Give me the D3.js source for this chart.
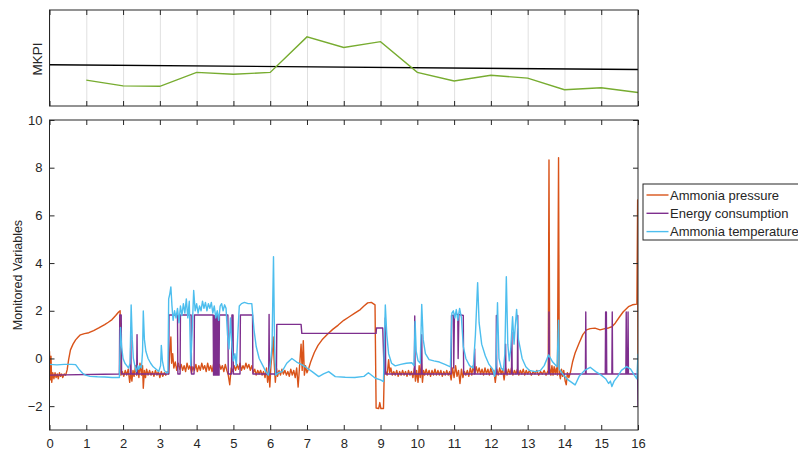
<!DOCTYPE html>
<html>
<head>
<meta charset="utf-8">
<script src="https://cdn.jsdelivr.net/npm/d3@7"></script>
<style>
  body { margin: 0; background: #fff; }
  text { font-family: "Liberation Sans", Arial, sans-serif; fill: #262626; }
</style>
</head>
<body>
<svg id="chart" width="798" height="451"></svg>
<script>
// ---- data ----
var xTicks = [0, 1, 2, 3, 4, 5, 6, 7, 8, 9, 10, 11, 12, 13, 14, 15, 16];
var yTicks = [-2, 0, 2, 4, 6, 8, 10];

// top panel (MKPI), arbitrary 0..1 units
var mkpiX = [1, 2, 3, 4, 5, 6, 7, 8, 9, 10, 11, 12, 13, 14, 15, 16];
var mkpi = [0.27, 0.21, 0.205, 0.35, 0.33, 0.35, 0.72, 0.61, 0.67, 0.35, 0.26, 0.32, 0.29, 0.17, 0.19, 0.14];
var trendX = [0, 16];
var trend = [0.43, 0.38];

var seriesNames = ["Ammonia pressure", "Energy consumption", "Ammonia temperature"];
var seriesColors = ["#D95319", "#7E2F8E", "#4DBEEE"];

var pressure = [
  [0.00,0.3],[0.02,-0.9],[0.04,0.1],[0.06,-1.0],[0.09,-0.6],[0.12,-0.85],[0.15,-0.6],[0.18,-0.8],
  [0.21,-0.65],[0.24,-0.85],[0.27,-0.6],[0.30,-0.75],[0.33,-0.65],[0.36,-0.8],[0.40,-0.65],[0.44,-0.7],
  [0.48,-0.48],[0.52,-0.05],[0.57,0.36],[0.64,0.6],[0.71,0.78],[0.78,0.9],[0.84,0.99],[0.95,1.04],
  [1.07,1.08],[1.20,1.17],[1.34,1.28],[1.50,1.42],[1.60,1.52],[1.70,1.63],[1.80,1.8],[1.88,1.95],
  [1.92,2.0],[1.94,-0.7],[1.98,-0.55],[2.02,-0.75],[2.06,-0.5],[2.10,-0.7],[2.14,-0.45],[2.18,-1.0],
  [2.21,-0.6],[2.24,-0.95],[2.27,-0.5],[2.30,-0.75],[2.34,-0.3],[2.37,-0.7],[2.40,-0.4],[2.43,-0.8],
  [2.46,-0.2],[2.50,-0.7],[2.53,-0.3],[2.55,-1.25],[2.58,-0.5],[2.61,-0.8],[2.64,-0.45],[2.68,-0.7],
  [2.72,-0.5],[2.76,-0.7],[2.80,-0.55],[2.84,-0.75],[2.88,-0.5],[2.92,-0.7],[2.96,-0.55],[3.00,-0.8],
  [3.04,-0.55],[3.08,-0.75],[3.12,-0.6],[3.16,-0.7],[3.20,-0.55],[3.24,-0.65],[3.27,0.3],[3.30,0.9],
  [3.32,-0.2],[3.35,0.2],[3.38,-0.4],[3.42,-0.15],[3.46,-0.5],[3.50,-0.2],[3.54,-0.45],[3.58,-0.25],
  [3.62,-0.5],[3.66,-0.3],[3.70,-0.55],[3.74,-0.2],[3.78,-0.45],[3.82,-0.3],[3.86,-0.6],[3.90,-0.35],
  [3.94,-0.5],[3.98,-0.25],[4.02,-0.55],[4.06,-0.3],[4.10,-0.5],[4.14,-0.2],[4.18,-0.45],[4.22,-0.3],
  [4.26,-0.55],[4.30,-0.2],[4.34,-0.5],[4.38,-0.3],[4.42,-0.55],[4.46,-0.25],[4.50,-0.6],[4.54,-0.3],
  [4.58,-0.5],[4.62,-0.25],[4.66,-0.45],[4.70,-0.3],[4.74,-0.55],[4.78,-0.25],[4.82,-0.5],[4.86,-0.7],
  [4.90,-1.1],[4.94,-0.4],[4.98,-0.55],[5.02,-0.3],[5.06,-0.5],[5.10,-0.25],[5.14,-0.45],[5.18,-0.2],
  [5.22,-0.5],[5.26,-0.3],[5.30,-0.45],[5.34,-0.2],[5.38,-0.4],[5.42,-0.25],[5.46,-0.5],[5.50,-0.3],
  [5.54,-0.6],[5.58,-0.45],[5.62,-0.7],[5.66,-0.5],[5.70,-0.65],[5.74,-0.5],[5.78,-0.7],[5.82,-0.55],
  [5.86,-0.8],[5.90,-0.4],[5.93,-1.0],[5.96,-0.5],[5.99,-1.2],[6.02,-0.3],[6.05,0.2],[6.08,0.9],
  [6.11,-0.2],[6.14,-1.0],[6.17,-0.4],[6.20,-0.75],[6.24,-0.5],[6.28,-0.7],[6.32,-0.45],[6.36,-0.65],
  [6.40,-0.5],[6.44,-0.7],[6.48,-0.55],[6.52,-0.75],[6.56,-0.45],[6.60,-0.7],[6.64,-0.5],[6.68,-0.8],
  [6.72,-0.4],[6.76,-1.2],[6.80,-0.3],[6.84,0.6],[6.87,-0.5],[6.90,0.75],[6.93,-0.7],[6.96,-0.3],
  [7.00,-0.6],[7.05,-0.4],[7.10,-0.15],[7.20,0.25],[7.30,0.55],[7.41,0.78],[7.55,1.0],[7.70,1.22],
  [7.85,1.4],[8.00,1.6],[8.15,1.75],[8.30,1.9],[8.45,2.05],[8.55,2.2],[8.65,2.33],[8.75,2.35],
  [8.85,2.25],[8.88,-2.08],[8.95,-2.1],[8.98,-1.85],[9.01,-2.1],[9.08,-2.1],[9.10,-0.65],
  [9.14,-0.55],[9.18,-0.7],[9.22,-0.05],[9.25,-0.6],[9.28,-0.4],[9.32,-0.7],[9.36,-0.55],[9.40,-0.7],
  [9.44,-0.5],[9.48,-0.75],[9.52,-0.55],[9.56,-0.7],[9.60,-0.5],[9.64,-0.7],[9.68,-0.55],[9.72,-0.75],
  [9.76,-0.5],[9.80,-0.7],[9.84,-0.55],[9.88,-0.8],[9.92,-0.4],[9.95,-0.95],[9.98,-0.5],[10.02,-1.0],
  [10.05,-0.3],[10.08,-0.8],[10.11,-0.2],[10.14,-1.0],[10.17,-0.5],[10.20,-0.7],[10.24,-0.45],
  [10.28,-0.7],[10.32,-0.5],[10.36,-0.75],[10.40,-0.5],[10.44,-0.7],[10.48,-0.45],[10.52,-0.7],
  [10.56,-0.5],[10.60,-0.7],[10.64,-0.5],[10.68,-0.75],[10.72,-0.55],[10.76,-0.7],[10.80,-0.5],
  [10.84,-0.7],[10.88,-0.55],[10.92,-0.9],[10.96,-0.4],[11.00,-0.8],[11.04,-0.3],[11.08,-0.75],
  [11.12,-0.5],[11.16,-1.05],[11.20,-0.45],[11.24,-0.8],[11.28,-0.55],[11.32,-0.7],[11.36,-0.5],
  [11.40,-0.75],[11.44,-0.4],[11.48,-0.7],[11.52,-0.3],[11.56,-0.65],[11.60,-0.35],[11.64,-0.6],
  [11.68,-0.4],[11.72,-0.65],[11.76,-0.45],[11.80,-0.7],[11.84,-0.4],[11.88,-0.65],[11.92,-0.45],
  [11.96,-0.7],[12.00,-0.4],[12.04,-0.65],[12.08,-0.5],[12.12,-1.0],[12.16,-0.45],[12.20,-0.7],
  [12.24,-0.4],[12.28,-0.65],[12.32,-0.45],[12.36,-0.9],[12.40,-0.4],[12.44,-0.7],[12.48,-0.45],
  [12.52,-0.65],[12.56,-0.4],[12.60,-0.7],[12.64,-0.5],[12.68,-0.65],[12.72,-0.45],[12.76,-0.7],
  [12.80,-0.5],[12.84,-0.65],[12.88,-0.45],[12.92,-0.7],[12.96,-0.5],[13.00,-0.65],[13.05,-0.5],
  [13.10,-0.7],[13.15,-0.55],[13.20,-0.65],[13.25,-0.5],[13.30,-0.7],[13.35,-0.55],[13.40,-0.65],
  [13.45,-0.5],[13.50,-0.7],[13.56,-0.5],[13.58,8.32],[13.60,-0.4],[13.63,-0.7],[13.66,-0.3],
  [13.69,-0.7],[13.72,-0.35],[13.75,-0.65],[13.78,-0.4],[13.81,-0.7],[13.84,8.42],[13.86,-0.6],
  [13.89,-0.85],[13.92,-0.45],[13.95,-0.75],[13.98,-0.5],[14.02,-0.95],[14.05,-1.1],[14.08,-0.6],
  [14.12,-0.8],[14.16,-0.6],[14.22,-0.15],[14.29,0.23],[14.40,0.65],[14.50,1.0],[14.60,1.2],
  [14.70,1.25],[14.83,1.27],[14.97,1.2],[15.10,1.25],[15.20,1.28],[15.29,1.33],[15.38,1.48],
  [15.50,1.75],[15.60,1.96],[15.74,2.17],[15.85,2.25],[15.97,2.28],[15.99,6.65],[16.0,-0.5]
];

var energy = [
  [0.00,-0.7],[1.90,-0.65],[1.91,1.82],[1.95,1.82],[1.96,-0.65],[2.20,-0.65],[2.21,0.95],[2.22,-0.65],
  [2.37,-0.65],[2.38,1.0],[2.39,-0.65],[3.24,-0.65],[3.25,1.82],[3.48,1.82],[3.49,-0.65],[3.55,-0.65],
  [3.56,1.82],[3.85,1.82],[3.86,-0.65],[3.93,-0.65],[3.94,1.82],[4.45,1.82],[4.46,-0.7],[4.475,1.8],
  [4.49,-0.7],[4.505,1.8],[4.52,-0.7],[4.535,1.8],[4.55,-0.7],[4.565,1.8],[4.58,-0.7],[4.595,1.8],
  [4.61,-0.7],[4.62,1.82],[4.85,1.82],[4.86,-0.65],[4.95,-0.65],[4.96,1.82],[4.99,1.82],[5.00,-0.65],
  [5.18,-0.65],[5.19,1.82],[5.52,1.82],[5.53,-0.65],[5.96,-0.65],[5.97,1.85],[5.98,-0.65],[6.17,-0.65],
  [6.18,1.43],[6.84,1.43],[6.86,1.05],[8.88,1.05],[8.89,1.28],[9.06,1.28],[9.10,-0.65],[9.12,-0.65],
  [9.13,1.7],[9.14,-0.65],[9.92,-0.65],[9.93,1.78],[9.94,-0.65],[10.11,-0.65],[10.12,1.0],[10.13,-0.65],
  [10.92,-0.65],[10.93,1.8],[10.98,1.8],[10.99,-0.4],[11.01,1.85],[11.10,1.85],[11.11,0.0],[11.13,1.85],
  [11.25,1.8],[11.26,-0.65],[11.55,-0.65],[11.56,0.4],[11.57,-0.65],[12.14,-0.65],[12.15,1.8],
  [12.16,-0.65],[12.39,-0.65],[12.40,0.6],[12.41,-0.65],[12.56,-0.65],[12.57,1.1],[12.58,-0.65],
  [12.72,-0.65],[12.73,1.8],[12.74,-0.65],[13.57,-0.65],[13.58,1.95],[13.59,-0.65],[14.57,-0.65],
  [14.58,1.95],[14.59,-0.65],[15.11,-0.65],[15.12,1.95],[15.13,-0.65],[15.14,1.95],[15.15,-0.65],
  [15.29,-0.65],[15.30,1.95],[15.31,-0.65],[15.67,-0.65],[15.68,1.95],[15.69,-0.65],[15.72,-0.65],
  [15.73,1.95],[15.74,-0.65],[15.99,-0.65],[16.0,-2.0]
];

var temperature = [
  [0.00,-0.25],[0.20,-0.27],[0.40,-0.25],[0.60,-0.25],[0.71,-0.26],[0.80,-0.45],[0.90,-0.62],[0.98,-0.7],
  [1.10,-0.75],[1.30,-0.77],[1.50,-0.78],[1.70,-0.8],[1.90,-0.8],[1.93,1.3],[1.96,0.5],[2.00,0.0],
  [2.05,-0.2],[2.10,-0.3],[2.15,-0.4],[2.19,-0.2],[2.22,2.24],[2.25,0.8],[2.28,0.0],[2.32,-0.3],
  [2.36,-0.55],[2.40,-0.3],[2.43,-0.45],[2.46,-0.3],[2.50,-0.4],[2.53,0.3],[2.55,1.99],[2.58,0.8],
  [2.62,0.3],[2.68,0.0],[2.75,-0.2],[2.82,-0.35],[2.90,-0.45],[2.97,-0.55],[3.02,-0.3],[3.04,0.55],
  [3.07,-0.1],[3.12,-0.5],[3.18,-0.6],[3.22,-0.6],[3.24,2.5],[3.27,2.7],[3.30,3.0],[3.33,2.2],
  [3.36,1.6],[3.40,2.0],[3.44,1.7],[3.48,2.1],[3.52,1.5],[3.56,2.2],[3.60,1.8],[3.64,2.3],[3.68,1.9],
  [3.72,2.5],[3.76,1.7],[3.80,2.4],[3.84,-0.3],[3.88,1.2],[3.92,2.85],[3.96,2.0],[4.00,2.3],[4.04,1.9],
  [4.08,2.2],[4.12,2.0],[4.16,2.4],[4.20,2.1],[4.24,2.35],[4.28,2.0],[4.32,2.3],[4.36,2.1],[4.40,2.35],
  [4.44,1.9],[4.48,2.2],[4.52,1.7],[4.56,2.0],[4.60,1.6],[4.64,2.2],[4.68,2.3],[4.72,2.0],[4.76,2.25],
  [4.80,2.1],[4.84,1.0],[4.88,0.4],[4.92,1.7],[4.96,0.5],[5.00,-0.1],[5.04,0.2],[5.08,-0.3],[5.12,1.0],
  [5.16,2.2],[5.22,2.3],[5.30,2.35],[5.40,2.3],[5.50,2.3],[5.56,1.2],[5.62,0.5],[5.70,0.0],[5.80,-0.3],
  [5.88,-0.55],[5.95,-0.7],[6.00,-0.3],[6.05,0.5],[6.09,4.27],[6.12,0.5],[6.15,-0.7],[6.22,-0.6],
  [6.32,-0.55],[6.45,-0.2],[6.59,0.0],[6.72,-0.15],[6.87,-0.27],[7.00,-0.4],[7.14,-0.55],[7.32,-0.76],
  [7.45,-0.65],[7.59,-0.55],[7.77,-0.76],[8.04,-0.79],[8.30,-0.8],[8.55,-0.75],[8.67,-0.6],[8.86,-0.83],
  [9.00,-0.9],[9.08,-0.97],[9.13,2.24],[9.17,1.0],[9.22,0.2],[9.30,-0.2],[9.40,-0.31],[9.55,-0.25],
  [9.70,-0.2],[9.85,-0.18],[9.91,-0.3],[9.94,1.55],[9.97,0.3],[10.02,-0.1],[10.08,-0.2],[10.12,2.27],
  [10.16,0.8],[10.22,0.2],[10.32,-0.05],[10.45,-0.1],[10.60,-0.15],[10.75,-0.25],[10.90,-0.35],
  [10.94,1.9],[10.98,2.0],[11.02,1.7],[11.06,2.05],[11.10,1.6],[11.15,2.1],[11.20,1.7],[11.25,0.5],
  [11.32,0.0],[11.42,-0.3],[11.52,-0.4],[11.58,1.0],[11.64,3.18],[11.68,1.5],[11.75,0.6],[11.85,0.1],
  [11.95,-0.25],[12.05,-0.45],[12.10,-0.75],[12.14,-0.3],[12.18,2.34],[12.22,0.0],[12.28,-0.4],
  [12.34,-0.5],[12.38,0.2],[12.42,3.43],[12.46,0.6],[12.50,-0.1],[12.54,0.4],[12.59,1.75],[12.63,0.6],
  [12.66,1.3],[12.70,2.06],[12.75,0.8],[12.85,0.0],[12.95,-0.35],[13.05,-0.5],[13.20,-0.55],
  [13.35,-0.5],[13.45,-0.3],[13.57,0.15],[13.68,-0.15],[13.80,-0.35],[13.84,1.6],[13.86,-0.45],
  [13.97,-0.69],[14.10,-0.9],[14.29,-1.11],[14.40,-0.75],[14.55,-0.5],[14.70,-0.37],[14.85,-0.55],
  [15.00,-0.7],[15.12,-0.85],[15.20,-1.05],[15.25,-0.95],[15.29,-1.18],[15.35,-0.95],[15.45,-0.75],
  [15.55,-0.5],[15.69,-0.34],[15.80,-0.45],[15.90,-0.7],[15.97,-0.85],[16.0,0.2]
];

// ---- layout ----
var svg = d3.select('#chart')
var left = 49.5, right = 638
var topPanel = {y0: 10, y1: 106}
var mainPanel = {y0: 120, y1: 430}
var axisColor = '#262626'
var tickLen = 5

var x = d3.scaleLinear().domain([0, 16]).range([left, right])
var yTop = d3.scaleLinear().domain([0, 1]).range([topPanel.y1, topPanel.y0])
var y = d3.scaleLinear().domain([-3, 10]).range([mainPanel.y1, mainPanel.y0])

svg.append('rect').attr('width', 798).attr('height', 451).attr('fill', '#fff')

// clip for each panel
var defs = svg.append('defs')
defs.append('clipPath').attr('id', 'clipTop').append('rect')
    .attr('x', left).attr('y', topPanel.y0).attr('width', right - left).attr('height', topPanel.y1 - topPanel.y0)
defs.append('clipPath').attr('id', 'clipMain').append('rect')
    .attr('x', left).attr('y', mainPanel.y0).attr('width', right - left).attr('height', mainPanel.y1 - mainPanel.y0)

// ---- top panel ----
// vertical grid
svg.append('g')
    .attr('transform', 'translate(0,' + topPanel.y1 + ')')
    .call(d3.axisBottom(x).tickValues(xTicks).tickSize(-(topPanel.y1 - topPanel.y0)).tickFormat(''))
    .call(g => g.select('.domain').remove())
    .call(g => g.selectAll('line').attr('stroke', '#e0e0e0').attr('stroke-width', 1))

var topLine = d3.line().x(d => x(d[0])).y(d => yTop(d[1]))
svg.append('path')
    .datum(d3.zip(trendX, trend))
    .attr('clip-path', 'url(#clipTop)')
    .attr('fill', 'none').attr('stroke', '#000').attr('stroke-width', 1.4)
    .attr('d', topLine)
svg.append('path')
    .datum(d3.zip(mkpiX, mkpi))
    .attr('clip-path', 'url(#clipTop)')
    .attr('fill', 'none').attr('stroke', '#77AC30').attr('stroke-width', 1.4)
    .attr('d', topLine)

// inward ticks top and bottom of the top panel
svg.append('g')
    .attr('transform', 'translate(0,' + topPanel.y1 + ')')
    .call(d3.axisBottom(x).tickValues(xTicks).tickSize(-tickLen).tickFormat(''))
    .call(g => g.select('.domain').remove())
    .call(g => g.selectAll('line').attr('stroke', axisColor))
svg.append('g')
    .attr('transform', 'translate(0,' + topPanel.y0 + ')')
    .call(d3.axisTop(x).tickValues(xTicks).tickSize(-tickLen).tickFormat(''))
    .call(g => g.select('.domain').remove())
    .call(g => g.selectAll('line').attr('stroke', axisColor))

svg.append('rect')
    .attr('x', left).attr('y', topPanel.y0)
    .attr('width', right - left).attr('height', topPanel.y1 - topPanel.y0)
    .attr('fill', 'none').attr('stroke', axisColor).attr('stroke-width', 1)

svg.append('text')
    .attr('transform', 'translate(42,' + ((topPanel.y0 + topPanel.y1) / 2 + 1) + ') rotate(-90)')
    .attr('text-anchor', 'middle')
    .style('font-size', '13.5px')
    .text('MKPI')

// ---- main panel ----
var line = d3.line().x(d => x(d[0])).y(d => y(d[1]))
var allSeries = [pressure, energy, temperature]

svg.append('g')
    .attr('clip-path', 'url(#clipMain)')
    .selectAll('path')
    .data(allSeries)
    .join('path')
    .attr('fill', 'none')
    .attr('stroke', (d, i) => seriesColors[i])
    .attr('stroke-width', 1.4)
    .attr('stroke-linejoin', 'round')
    .attr('d', line)

// bottom axis with labels
svg.append('g')
    .attr('transform', 'translate(0,' + mainPanel.y1 + ')')
    .call(d3.axisBottom(x).tickValues(xTicks).tickSize(-tickLen).tickPadding(9).tickFormat(d3.format('d')))
    .call(g => g.select('.domain').remove())
    .call(g => g.selectAll('line').attr('stroke', axisColor))
    .call(g => g.selectAll('text').style('font-size', '13px').attr('fill', axisColor))
svg.append('g')
    .attr('transform', 'translate(0,' + mainPanel.y0 + ')')
    .call(d3.axisTop(x).tickValues(xTicks).tickSize(-tickLen).tickFormat(''))
    .call(g => g.select('.domain').remove())
    .call(g => g.selectAll('line').attr('stroke', axisColor))

// left axis with labels, right ticks only
svg.append('g')
    .attr('transform', 'translate(' + left + ',0)')
    .call(d3.axisLeft(y).tickValues(yTicks).tickSize(-tickLen).tickPadding(7).tickFormat(d3.format('d')))
    .call(g => g.select('.domain').remove())
    .call(g => g.selectAll('line').attr('stroke', axisColor))
    .call(g => g.selectAll('text').style('font-size', '13px').attr('fill', axisColor))
svg.append('g')
    .attr('transform', 'translate(' + right + ',0)')
    .call(d3.axisRight(y).tickValues(yTicks).tickSize(-tickLen).tickFormat(''))
    .call(g => g.select('.domain').remove())
    .call(g => g.selectAll('line').attr('stroke', axisColor))

svg.append('rect')
    .attr('x', left).attr('y', mainPanel.y0)
    .attr('width', right - left).attr('height', mainPanel.y1 - mainPanel.y0)
    .attr('fill', 'none').attr('stroke', axisColor).attr('stroke-width', 1)

svg.append('text')
    .attr('transform', 'translate(22,' + ((mainPanel.y0 + mainPanel.y1) / 2) + ') rotate(-90)')
    .attr('text-anchor', 'middle')
    .style('font-size', '12.5px')
    .text('Monitored Variables')

// ---- legend ----
var legend = svg.append('g').attr('transform', 'translate(643,184)')
legend.append('rect')
    .attr('width', 170).attr('height', 56)
    .attr('fill', '#fff').attr('stroke', axisColor).attr('stroke-width', 1)
var item = legend.selectAll('g.item')
    .data(seriesNames)
    .join('g')
    .attr('class', 'item')
    .attr('transform', (d, i) => 'translate(0,' + (11 + i * 18.3) + ')')
item.append('line')
    .attr('x1', 3.5).attr('x2', 25.5)
    .attr('stroke', (d, i) => seriesColors[i]).attr('stroke-width', 1.4)
item.append('text')
    .attr('x', 27).attr('dy', '0.35em')
    .style('font-size', '13px')
    .text(d => d)
</script>
</body>
</html>
